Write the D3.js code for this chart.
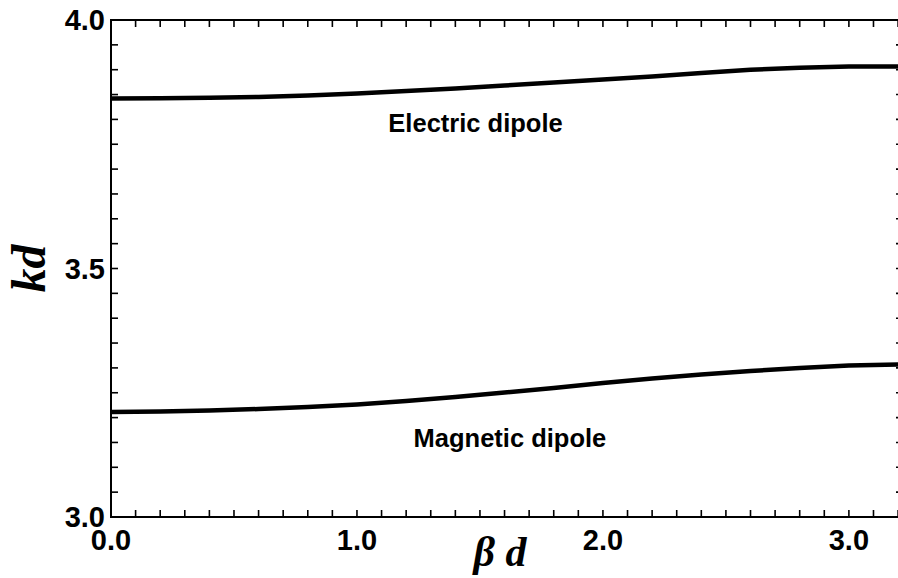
<!DOCTYPE html>
<html>
<head>
<meta charset="utf-8">
<script src="https://cdn.jsdelivr.net/npm/d3@7"></script>
<style>
  html, body { margin: 0; padding: 0; background: #fff; }
  svg { display: block; }
</style>
</head>
<body>
<svg id="chart" width="898" height="578"></svg>
<script>
// Dispersion of the two dipole resonances: normalised frequency kd against Bloch phase βd
const betaD = [0, 0.2, 0.4, 0.6, 0.8, 1.0, 1.2, 1.4, 1.6, 1.8, 2.0, 2.2, 2.4, 2.6, 2.8, 3.0, 3.2];
const electricKd = [3.842, 3.8425, 3.8435, 3.8451, 3.8481, 3.8521, 3.8571, 3.8622, 3.8682, 3.8742,
                    3.8803, 3.8863, 3.8934, 3.9000, 3.9040, 3.9062, 3.9066];
const magneticKd = [3.2113, 3.2123, 3.2143, 3.2173, 3.2213, 3.2264, 3.2334, 3.2414, 3.2505, 3.2596,
                    3.2696, 3.2787, 3.2867, 3.2938, 3.2998, 3.3048, 3.3068];

const xTickValues = [0, 1, 2, 3];
const yTickValues = [3.0, 3.5, 4.0];
const xMinorStep = 0.1;
const yMinorStep = 0.05;

const curveLabels = [
  { text: "Electric dipole", x: 1.482, y: 3.7746 },
  { text: "Magnetic dipole", x: 1.622, y: 3.1408 }
];

const W = 898, H = 578;
const plot = { left: 111, right: 903, top: 20, bottom: 517 };

const x = d3.scaleLinear().domain([0, 3.22]).range([plot.left, plot.right]);
const y = d3.scaleLinear().domain([3.0, 4.0]).range([plot.bottom, plot.top]);

const svg = d3.select("#chart");
svg.append("rect").attr("width", W).attr("height", H).attr("fill", "#fff");

const tickLen = 7;
const minorX = d3.range(0, 3.22 + 1e-9, xMinorStep);
const minorY = d3.range(3.0, 4.0 + 1e-9, yMinorStep);

// inward ticks on all four sides
const ticks = svg.append("g").attr("stroke", "#000").attr("stroke-width", 1.6);
minorX.forEach(v => {
  const px = x(v);
  ticks.append("line").attr("x1", px).attr("x2", px).attr("y1", plot.bottom).attr("y2", plot.bottom - tickLen);
  ticks.append("line").attr("x1", px).attr("x2", px).attr("y1", plot.top).attr("y2", plot.top + tickLen);
});
minorY.forEach(v => {
  const py = y(v);
  ticks.append("line").attr("x1", plot.left).attr("x2", plot.left + tickLen).attr("y1", py).attr("y2", py);
  ticks.append("line").attr("x1", plot.right).attr("x2", plot.right - tickLen).attr("y1", py).attr("y2", py);
});

// frame
svg.append("rect")
  .attr("x", plot.left).attr("y", plot.top)
  .attr("width", plot.right - plot.left).attr("height", plot.bottom - plot.top)
  .attr("fill", "none").attr("stroke", "#000").attr("stroke-width", 2);

// curves
const line = d3.line().x((d, i) => x(betaD[i])).y(d => y(d));
[electricKd, magneticKd].forEach(series => {
  svg.append("path")
    .datum(series)
    .attr("d", line)
    .attr("fill", "none")
    .attr("stroke", "#000")
    .attr("stroke-width", 4.5)
    .attr("stroke-linejoin", "round");
});

// tick labels
const tickFont = "'Liberation Sans', Arial, sans-serif";
svg.append("g").selectAll("text").data(xTickValues).join("text")
  .attr("x", d => x(d)).attr("y", 550)
  .attr("text-anchor", "middle")
  .attr("font-family", tickFont).attr("font-weight", "bold").attr("font-size", 29)
  .text(d => d3.format(".1f")(d));

svg.append("g").selectAll("text").data(yTickValues).join("text")
  .attr("x", plot.left - 6).attr("y", d => y(d) + 10)
  .attr("text-anchor", "end")
  .attr("font-family", tickFont).attr("font-weight", "bold").attr("font-size", 29)
  .text(d => d3.format(".1f")(d));

// curve annotations
svg.append("g").selectAll("text").data(curveLabels).join("text")
  .attr("x", d => x(d.x)).attr("y", d => y(d.y))
  .attr("text-anchor", "middle")
  .attr("font-family", tickFont).attr("font-weight", "bold").attr("font-size", 25.5)
  .text(d => d.text);

// axis titles
const serif = "'Liberation Serif', 'Times New Roman', serif";
svg.append("text")
  .attr("transform", `translate(45, ${(plot.top + plot.bottom) / 2}) rotate(-90)`)
  .attr("text-anchor", "middle")
  .attr("font-family", serif).attr("font-style", "italic").attr("font-weight", "bold")
  .attr("font-size", 48)
  .text("kd");

svg.append("text")
  .attr("x", 500).attr("y", 566)
  .attr("text-anchor", "middle")
  .attr("font-family", serif).attr("font-style", "italic").attr("font-weight", "bold")
  .attr("font-size", 42)
  .text("β d");
</script>
</body>
</html>
